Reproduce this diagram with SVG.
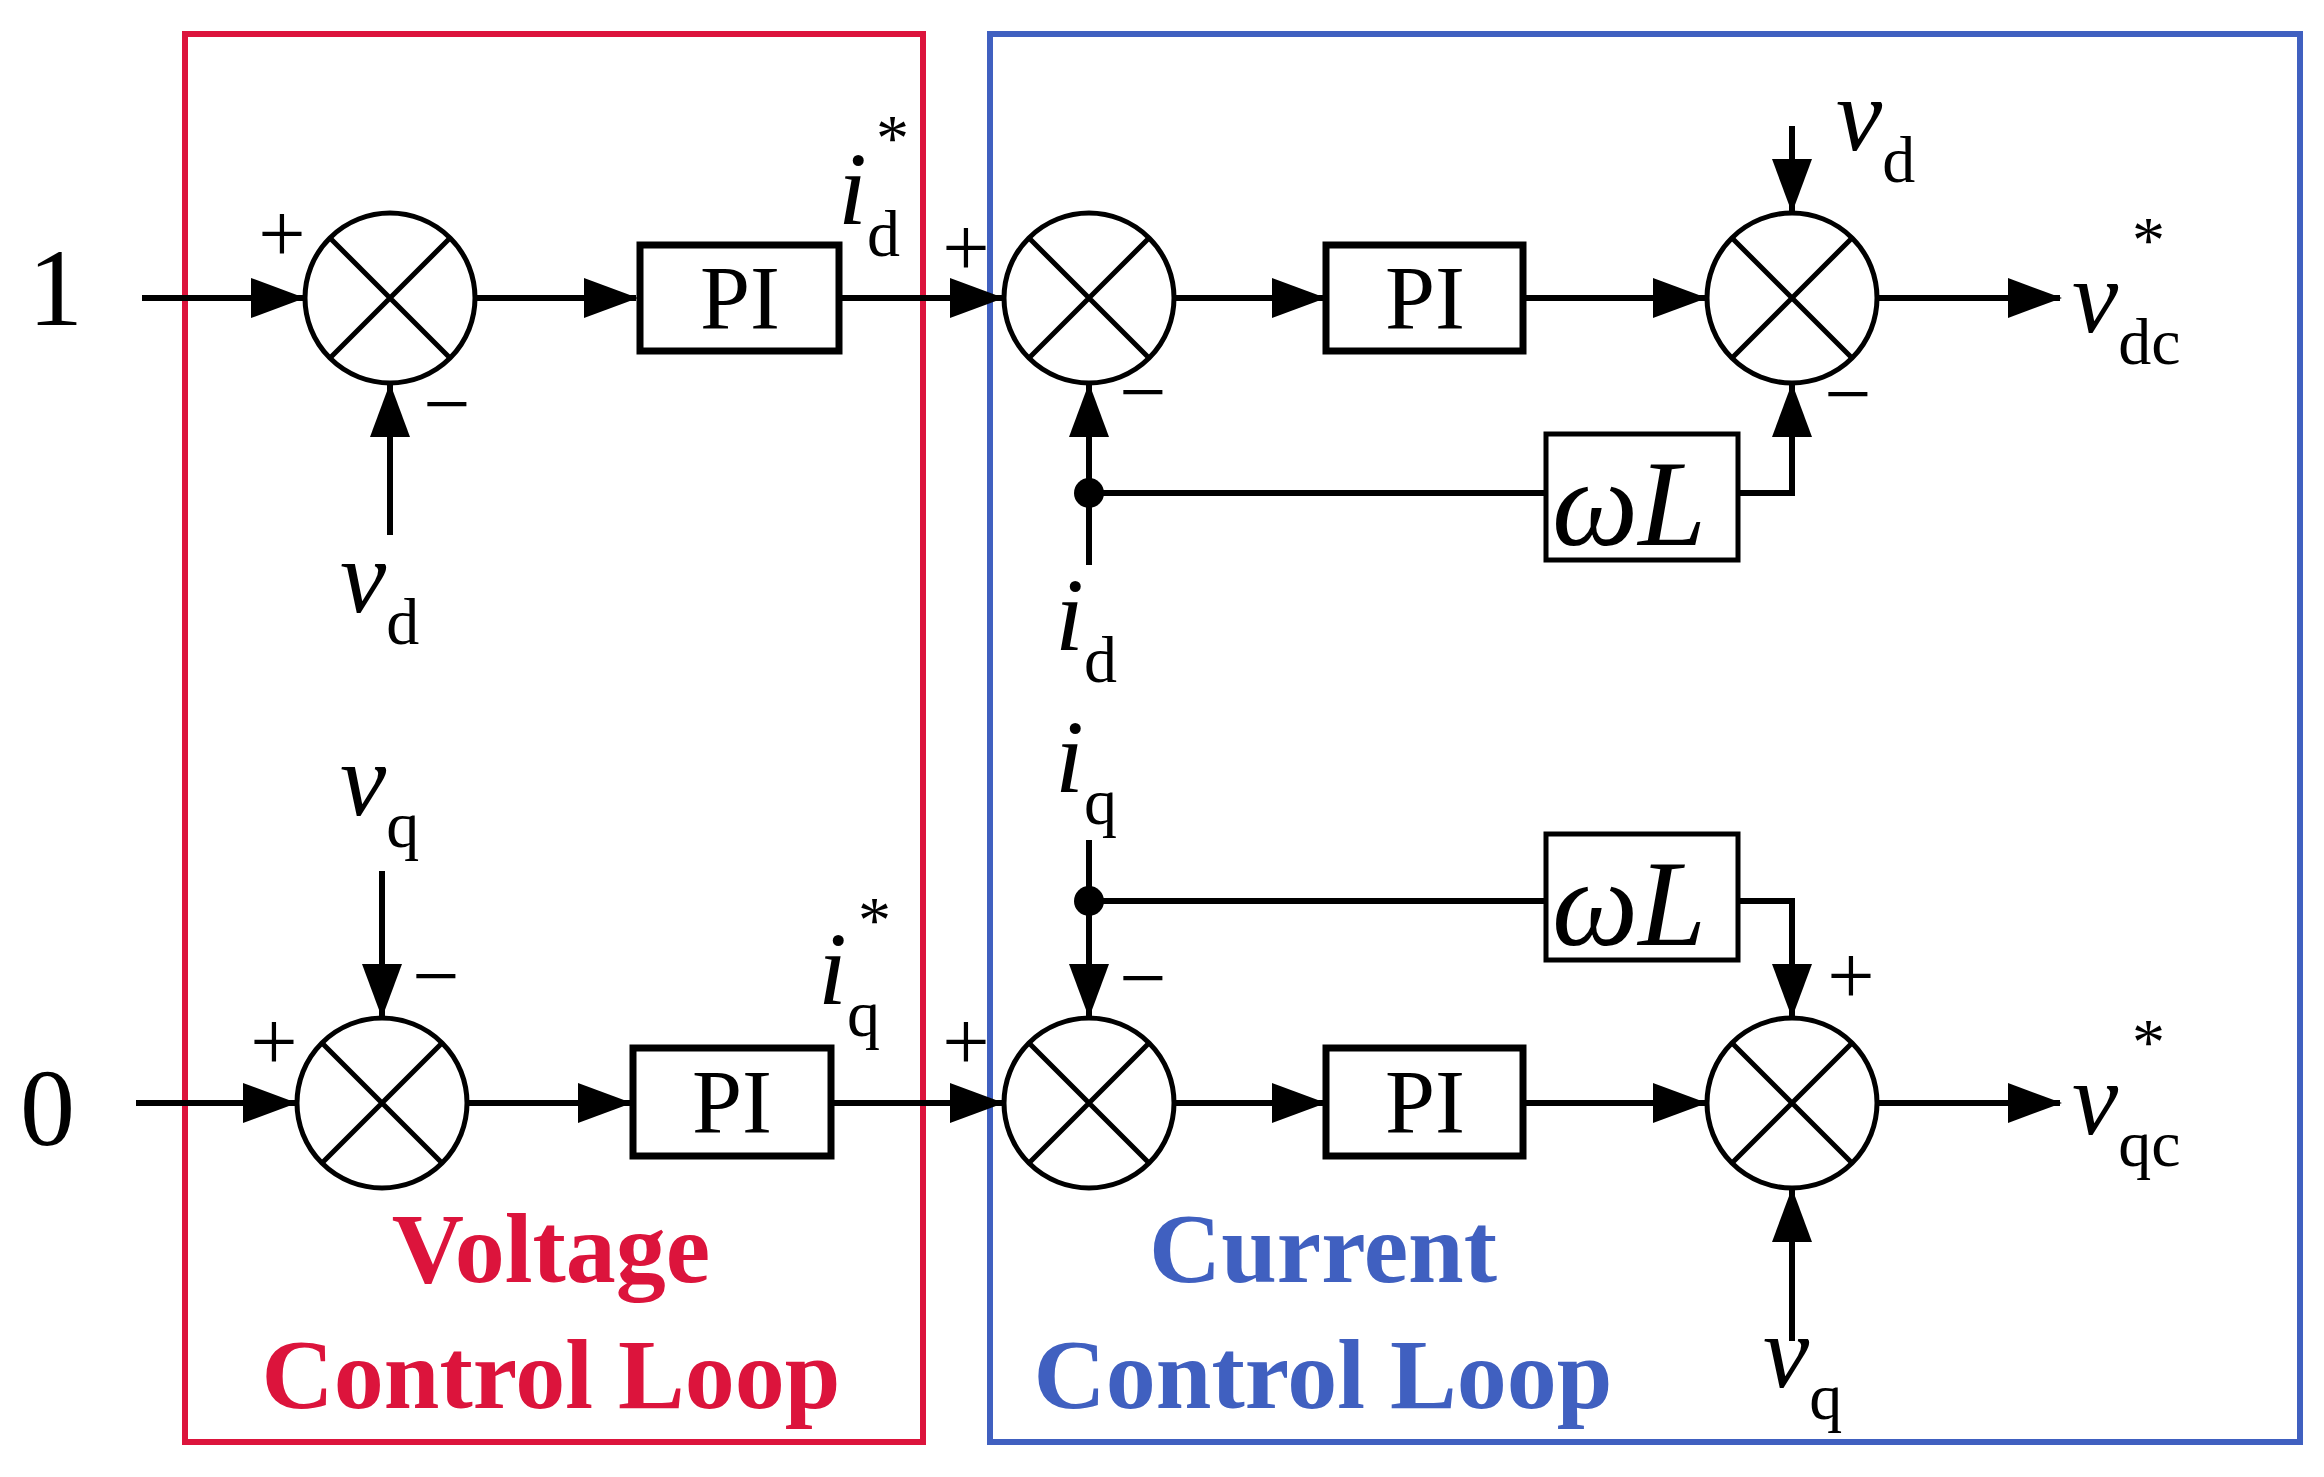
<svg xmlns="http://www.w3.org/2000/svg" width="2324" height="1477" viewBox="0 0 2324 1477">
<style>
.w{stroke:#000;stroke-width:6;fill:none}
.s{stroke:#000;stroke-width:5;fill:#fff}
.b{stroke:#000;stroke-width:7;fill:#fff}
.t{font-family:"Liberation Serif",serif;fill:#000}
.v{font-style:italic;font-size:104px}
.sub{font-size:66px;font-style:normal}
.pi{font-size:90px;text-anchor:middle}
.sg{font-size:84px;text-anchor:middle}
.lab{font-family:"Liberation Serif",serif;font-weight:bold;font-size:100px;text-anchor:middle}
</style>
<defs>
<marker id="a" markerUnits="userSpaceOnUse" markerWidth="54" markerHeight="40" refX="52" refY="20" orient="auto"><path d="M0,0L54,20L0,40Z" fill="#000"/></marker>
<g id="sum"><circle r="85" class="s"/><path d="M-60,-60L60,60M60,-60L-60,60" stroke="#000" stroke-width="5"/></g>
</defs>
<rect x="185" y="34" width="738" height="1408" fill="none" stroke="#dc143c" stroke-width="6"/>
<rect x="990" y="34" width="1310" height="1408" fill="none" stroke="#4060c0" stroke-width="6"/>
<g id="connectors">
<path class="w" d="M142,298H303" marker-end="url(#a)"/>
<path class="w" d="M475,298H636" marker-end="url(#a)"/>
<path class="w" d="M839,298H1002" marker-end="url(#a)"/>
<path class="w" d="M1174,298H1324" marker-end="url(#a)"/>
<path class="w" d="M1523,298H1705" marker-end="url(#a)"/>
<path class="w" d="M1877,298H2060" marker-end="url(#a)"/>
<path class="w" d="M390,535V385" marker-end="url(#a)"/>
<path class="w" d="M1792,126V211" marker-end="url(#a)"/>
<path class="w" d="M1089,565V385" marker-end="url(#a)"/>
<path class="w" d="M1089,493H1546"/>
<path class="w" d="M1738,493H1792V385" marker-end="url(#a)"/>
<circle cx="1089" cy="493" r="15"/>
<path class="w" d="M136,1103H295" marker-end="url(#a)"/>
<path class="w" d="M467,1103H630" marker-end="url(#a)"/>
<path class="w" d="M831,1103H1002" marker-end="url(#a)"/>
<path class="w" d="M1174,1103H1324" marker-end="url(#a)"/>
<path class="w" d="M1523,1103H1705" marker-end="url(#a)"/>
<path class="w" d="M1877,1103H2060" marker-end="url(#a)"/>
<path class="w" d="M382,871V1016" marker-end="url(#a)"/>
<path class="w" d="M1089,840V1016" marker-end="url(#a)"/>
<path class="w" d="M1089,901H1546"/>
<path class="w" d="M1738,901H1792V1016" marker-end="url(#a)"/>
<circle cx="1089" cy="901" r="15"/>
<path class="w" d="M1792,1341V1190" marker-end="url(#a)"/>
</g>
<g id="sum1"><use href="#sum" x="390" y="298"/></g>
<g id="pi1"><rect x="640" y="245" width="199" height="106" class="b"/><text class="t pi" x="740" y="329">PI</text></g>
<g id="sum2"><use href="#sum" x="1089" y="298"/></g>
<g id="pi2"><rect x="1326" y="245" width="197" height="106" class="b"/><text class="t pi" x="1425" y="329">PI</text></g>
<g id="sum3"><use href="#sum" x="1792" y="298"/></g>
<g id="wl1"><rect x="1546" y="434" width="192" height="126" class="s"/><text class="t v" x="1552" y="545" style="font-size:122px">ωL</text></g>
<g id="sum4"><use href="#sum" x="382" y="1103"/></g>
<g id="pi3"><rect x="633" y="1048" width="198" height="108" class="b"/><text class="t pi" x="732" y="1133">PI</text></g>
<g id="sum5"><use href="#sum" x="1089" y="1103"/></g>
<g id="pi4"><rect x="1326" y="1048" width="197" height="108" class="b"/><text class="t pi" x="1425" y="1133">PI</text></g>
<g id="sum6"><use href="#sum" x="1792" y="1103"/></g>
<g id="wl2"><rect x="1546" y="834" width="192" height="126" class="s"/><text class="t v" x="1552" y="945" style="font-size:122px">ωL</text></g>
<g id="labels">
<text class="t" x="28" y="325" style="font-size:110px">1</text>
<text class="t" x="20" y="1145" style="font-size:110px">0</text>
<text class="t sg" x="282" y="262">+</text><text class="t sg" x="447" y="432">−</text>
<text class="t sg" x="966" y="276">+</text><text class="t sg" x="1143" y="420">−</text>
<text class="t sg" x="1848" y="422">−</text>
<text class="t sg" x="274" y="1070">+</text><text class="t sg" x="436" y="1004">−</text>
<text class="t sg" x="966" y="1070">+</text><text class="t sg" x="1143" y="1006">−</text>
<text class="t sg" x="1851" y="1004">+</text>
<text class="t v" x="340" y="612">v<tspan class="sub" dy="32">d</tspan></text>
<text class="t v" x="838" y="224">i<tspan class="sub" dy="32">d</tspan><tspan class="sub" x="876" y="160">*</tspan></text>
<text class="t v" x="1055" y="650">i<tspan class="sub" dy="32">d</tspan></text>
<text class="t v" x="1055" y="792">i<tspan class="sub" dy="32">q</tspan></text>
<text class="t v" x="1836" y="150">v<tspan class="sub" dy="32">d</tspan></text>
<text class="t v" x="2072" y="332">v<tspan class="sub" dy="32">dc</tspan><tspan class="sub" x="2132" y="262">*</tspan></text>
<text class="t v" x="340" y="815">v<tspan class="sub" dy="32">q</tspan></text>
<text class="t v" x="818" y="1004">i<tspan class="sub" dy="32">q</tspan><tspan class="sub" x="858" y="942">*</tspan></text>
<text class="t v" x="2072" y="1134">v<tspan class="sub" dy="32">qc</tspan><tspan class="sub" x="2132" y="1064">*</tspan></text>
<text class="t v" x="1763" y="1387">v<tspan class="sub" dy="32">q</tspan></text>
<text class="lab" x="551" y="1282" fill="#dc143c">Voltage</text>
<text class="lab" x="551" y="1408" fill="#dc143c">Control Loop</text>
<text class="lab" x="1323" y="1282" fill="#4060c0">Current</text>
<text class="lab" x="1323" y="1408" fill="#4060c0">Control Loop</text>
</g>
</svg>
